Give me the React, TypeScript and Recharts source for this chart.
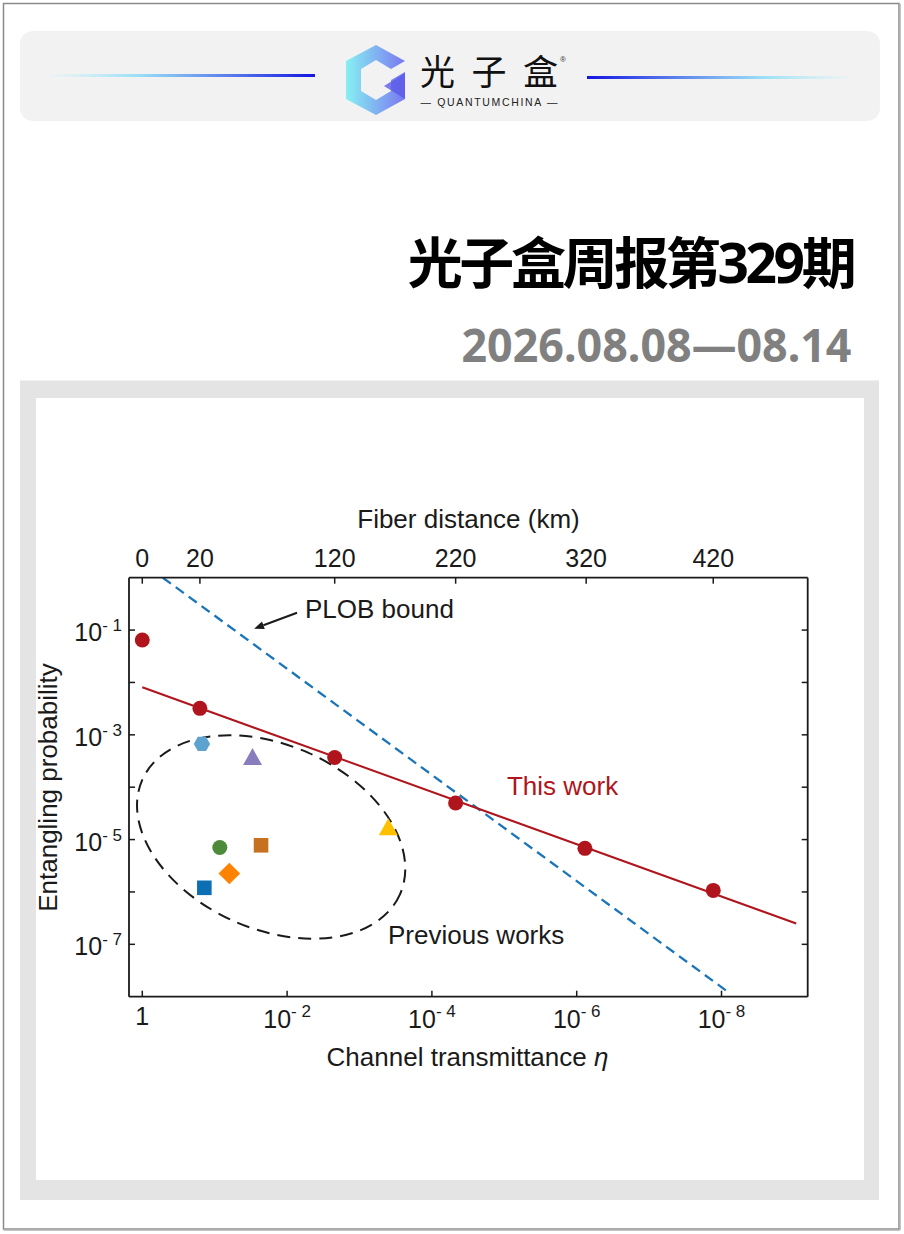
import React from 'react';
import { ComposedChart, Line, Scatter, XAxis, YAxis, ReferenceDot } from 'recharts';

// ---------- data ----------
const etaTicks = [1, 1e-2, 1e-4, 1e-6, 1e-8];
const probTicks = [1e-1, 1e-2, 1e-3, 1e-4, 1e-5, 1e-6, 1e-7];
const kmLabels = ['0', '20', '120', '220', '320', '420'];
const kmEta = [1, 0.16, 2.2e-3, 4.7e-5, 7.4e-7, 1.3e-8];

const thisWorkEta = [1, 0.16, 2.2e-3, 4.7e-5, 7.7e-7, 1.3e-8];
const thisWorkP = [0.0646, 3.2e-3, 3.7e-4, 5.0e-5, 6.8e-6, 1.07e-6];

const fitEta = [1, 9.3e-10];
const fitP = [8.1e-3, 2.5e-7];

const plobEta = [0.52, 7.8e-9];
const plobP = [1, 1.18e-8];

const prevEta = [0.15, 0.030, 0.085, 0.0229, 0.0628, 0.139, 4.0e-4];
const prevP = [6.7e-4, 3.6e-4, 7.05e-6, 7.78e-6, 2.25e-6, 1.2e-6, 1.64e-5];
const prevShapes = ['hexagon', 'triangle', 'circle', 'square', 'diamond', 'square', 'triangle'];
const prevColors = ['#5ea3d0', '#8a7dbd', '#4d8b3b', '#c6711f', '#ff8200', '#0c6fb3', '#ffc000'];

const ellipseEta = 0.0166;
const ellipseP = 1.12e-5;

const plobLabelAt = { x: 5.66e-3, y: 0.171 };
const plobArrowAt = { x: 0.0286, y: 0.106 };
const thisWorkLabelAt = { x: 9.2e-6, y: 6.98e-5 };
const previousLabelAt = { x: 4.04e-4, y: 1.01e-7 };

const xDomain: [number, number] = [6.45e-10, 1.526];
const yDomain: [number, number] = [1e-8, 1];

// ---------- helpers ----------
const toXY = (xs: number[], ys: number[]) => xs.map((x, i) => ({ x, y: ys[i] }));
const thisWorkData = toXY(thisWorkEta, thisWorkP);
const fitData = toXY(fitEta, fitP);
const plobData = toXY(plobEta, plobP);

const INK = '#1a1a1a';
const RED = '#b0141c';
const FONT = "'Liberation Sans', Arial, sans-serif";
const HEAD_FONT = "'Noto Sans', 'Noto Sans CJK SC', sans-serif";
const axisLine = { stroke: INK, strokeWidth: 1.8 };

const expOf = (v: number) => Math.round(Math.log10(v));

const BottomTick = (props: any) => {
  const { x, y, payload } = props;
  const e = expOf(payload.value);
  return (
    <g>
      <line x1={x} y1={y} x2={x} y2={y - 6} stroke={INK} strokeWidth={1.5} />
      {e === 0 ? (
        <text x={x} y={y + 28} textAnchor="middle" fontSize={25} fill={INK} fontFamily={FONT}>1</text>
      ) : (
        <text x={x} y={y + 31} textAnchor="middle" fontSize={25} fill={INK} fontFamily={FONT}>
          10<tspan dy={-11} fontSize={17}>{`- ${-e}`}</tspan>
        </text>
      )}
    </g>
  );
};

const TopTick = (props: any) => {
  const { x, y, payload } = props;
  const idx = kmEta.indexOf(payload.value);
  return (
    <g>
      <line x1={x} y1={y} x2={x} y2={y + 6} stroke={INK} strokeWidth={1.5} />
      <text x={x} y={y - 11} textAnchor="middle" fontSize={25} fill={INK} fontFamily={FONT}>
        {idx >= 0 ? kmLabels[idx] : ''}
      </text>
    </g>
  );
};

const LeftTick = (props: any) => {
  const { x, y, payload } = props;
  const e = expOf(payload.value);
  return (
    <g>
      <line x1={x} y1={y} x2={x + 6} y2={y} stroke={INK} strokeWidth={1.5} />
      {Math.abs(e) % 2 === 1 ? (
        <text x={x - 7} y={y + 11} textAnchor="end" fontSize={25} fill={INK} fontFamily={FONT}>
          10<tspan dy={-10} fontSize={17}>{`- ${-e}`}</tspan>
        </text>
      ) : null}
    </g>
  );
};

const RightTick = (props: any) => {
  const { x, y } = props;
  return <line x1={x} y1={y} x2={x - 6} y2={y} stroke={INK} strokeWidth={1.5} />;
};

const markerShape = (kind: string, color: string) => (p: any) => {
  const { cx, cy } = p;
  if (cx == null || cy == null) return <g />;
  switch (kind) {
    case 'hexagon': {
      const r = 8.2;
      const pts = [0, 1, 2, 3, 4, 5]
        .map((k) => {
          const a = (Math.PI / 3) * k;
          return `${cx + r * Math.cos(a)},${cy + r * Math.sin(a)}`;
        })
        .join(' ');
      return <polygon points={pts} fill={color} />;
    }
    case 'triangle':
      return <polygon points={`${cx},${cy - 10} ${cx + 9.5},${cy + 7} ${cx - 9.5},${cy + 7}`} fill={color} />;
    case 'circle':
      return <circle cx={cx} cy={cy} r={7.5} fill={color} />;
    case 'square':
      return <rect x={cx - 7.3} y={cy - 7.3} width={14.6} height={14.6} fill={color} />;
    case 'diamond':
      return <polygon points={`${cx},${cy - 10.8} ${cx + 10.8},${cy} ${cx},${cy + 10.8} ${cx - 10.8},${cy}`} fill={color} />;
    default:
      return <circle cx={cx} cy={cy} r={7} fill={color} />;
  }
};

const EllipseShape = (p: any) => (
  <ellipse
    cx={p.cx}
    cy={p.cy}
    rx={141}
    ry={92}
    transform={`rotate(24 ${p.cx} ${p.cy})`}
    fill="none"
    stroke={INK}
    strokeWidth={2}
    strokeDasharray="13 8"
  />
);

const textShape = (label: string, color: string) => (p: any) => (
  <text x={p.cx} y={p.cy} fontSize={26} fill={color} fontFamily={FONT}>{label}</text>
);

const ArrowShape = (p: any) => {
  const hx = p.cx, hy = p.cy;
  const tx = hx + 43, ty = hy - 16;
  const len = Math.hypot(hx - tx, hy - ty);
  const ux = (hx - tx) / len, uy = (hy - ty) / len;
  const bx = hx - ux * 10, by = hy - uy * 10;
  const px = -uy, py = ux;
  return (
    <g>
      <line x1={tx} y1={ty} x2={bx} y2={by} stroke={INK} strokeWidth={2} />
      <polygon points={`${hx},${hy} ${bx + px * 4},${by + py * 4} ${bx - px * 4},${by - py * 4}`} fill={INK} />
    </g>
  );
};

const Chart = () => (
  <ComposedChart width={828} height={782} margin={{ top: 139.7, right: 46.3, bottom: 133.3, left: 33 }}>
    <XAxis
      xAxisId="eta"
      dataKey="x"
      type="number"
      scale="log"
      domain={xDomain}
      allowDataOverflow
      reversed
      ticks={etaTicks}
      interval={0}
      tickSize={0}
      tickMargin={0}
      tickLine={false}
      axisLine={axisLine}
      tick={(p: any) => <BottomTick {...p} />}
      height={50}
      orientation="bottom"
    />
    <XAxis
      xAxisId="km"
      dataKey="x"
      type="number"
      scale="log"
      domain={xDomain}
      allowDataOverflow
      reversed
      ticks={kmEta}
      interval={0}
      tickSize={0}
      tickMargin={0}
      tickLine={false}
      axisLine={axisLine}
      tick={(p: any) => <TopTick {...p} />}
      height={40}
      orientation="top"
    />
    <YAxis
      yAxisId="left"
      dataKey="y"
      type="number"
      scale="log"
      domain={yDomain}
      allowDataOverflow
      ticks={probTicks}
      interval={0}
      tickSize={0}
      tickMargin={0}
      tickLine={false}
      axisLine={axisLine}
      tick={(p: any) => <LeftTick {...p} />}
      width={60}
      orientation="left"
    />
    <YAxis
      yAxisId="right"
      dataKey="y"
      type="number"
      scale="log"
      domain={yDomain}
      allowDataOverflow
      ticks={probTicks}
      interval={0}
      tickSize={0}
      tickMargin={0}
      tickLine={false}
      axisLine={axisLine}
      tick={(p: any) => <RightTick {...p} />}
      width={10}
      orientation="right"
    />

    <ReferenceDot xAxisId="eta" yAxisId="left" x={ellipseEta} y={ellipseP} shape={EllipseShape} />

    <Line
      xAxisId="eta"
      yAxisId="left"
      data={plobData}
      dataKey="y"
      type="linear"
      stroke="#1b75b8"
      strokeWidth={2.3}
      strokeDasharray="10 6"
      dot={false}
      activeDot={false}
      isAnimationActive={false}
    />
    <Line
      xAxisId="eta"
      yAxisId="left"
      data={fitData}
      dataKey="y"
      type="linear"
      stroke={RED}
      strokeWidth={2}
      dot={false}
      activeDot={false}
      isAnimationActive={false}
    />
    <Scatter
      xAxisId="eta"
      yAxisId="left"
      data={thisWorkData}
      dataKey="y"
      shape={markerShape('circle', RED)}
      isAnimationActive={false}
    />
    {prevEta.map((x, i) => (
      <Scatter
        key={i}
        xAxisId="eta"
        yAxisId="left"
        data={[{ x, y: prevP[i] }]}
        dataKey="y"
        shape={markerShape(prevShapes[i], prevColors[i])}
        isAnimationActive={false}
      />
    ))}

    <ReferenceDot xAxisId="eta" yAxisId="left" x={plobLabelAt.x} y={plobLabelAt.y} shape={textShape('PLOB bound', INK)} />
    <ReferenceDot xAxisId="eta" yAxisId="left" x={plobArrowAt.x} y={plobArrowAt.y} shape={ArrowShape} />
    <ReferenceDot xAxisId="eta" yAxisId="left" x={thisWorkLabelAt.x} y={thisWorkLabelAt.y} shape={textShape('This work', RED)} />
    <ReferenceDot xAxisId="eta" yAxisId="left" x={previousLabelAt.x} y={previousLabelAt.y} shape={textShape('Previous works', INK)} />
  </ComposedChart>
);

const Background = () => (
  <svg width={904} height={1234} style={{ position: 'absolute', left: 0, top: 0 }}>
    <defs>
      <linearGradient id="lineL" x1="0" y1="0" x2="1" y2="0">
        <stop offset="0" stopColor="#a8eefa" stopOpacity={0} />
        <stop offset="0.35" stopColor="#8fdcf8" stopOpacity={0.9} />
        <stop offset="1" stopColor="#1414e0" />
      </linearGradient>
      <linearGradient id="lineR" x1="0" y1="0" x2="1" y2="0">
        <stop offset="0" stopColor="#1414e0" />
        <stop offset="0.65" stopColor="#8fdcf8" stopOpacity={0.9} />
        <stop offset="1" stopColor="#a8eefa" stopOpacity={0} />
      </linearGradient>
      <linearGradient id="logoG" x1="0" y1="0" x2="1" y2="0">
        <stop offset="0" stopColor="#86f0f2" />
        <stop offset="1" stopColor="#7a78f0" />
      </linearGradient>
    </defs>
    <rect x={0} y={0} width={904} height={1234} fill="#ffffff" />
    <rect x={3.5} y={3.5} width={895.5} height={1225.5} fill="#ffffff" stroke="#8a8a8a" strokeWidth={1.5} />
    <line x1={4} y1={1230} x2={900} y2={1230} stroke="#b0b0b0" strokeWidth={1.5} />
    <line x1={900} y1={4} x2={900} y2={1230} stroke="#b0b0b0" strokeWidth={1.5} />

    {/* header banner */}
    <rect x={20} y={31} width={860} height={90} rx={13} fill="#f2f2f2" />
    <rect x={45} y={74} width={270} height={3} fill="url(#lineL)" />
    <rect x={587} y={76} width={268} height={3} fill="url(#lineR)" />
    <path
      d="M376,45 L405,61 L391,69 L376,60 L361,69 L361,91 L376,100 L391,91 L391,80 L405,72 L405,99 L376,115 L346,99 L346,61 Z"
      fill="url(#logoG)"
    />
    <path d="M384,86 L405,73 L405,99 Z" fill="#5a5ae8" opacity={0.8} />
    <text
      x={420}
      y={85}
      fontSize={35}
      fontFamily="'Noto Sans CJK SC', sans-serif"
      fill="#111"
      textLength={138}
      lengthAdjust="spacing"
    >
      光子盒
    </text>
    <text x={560} y={62} fontSize={8} fontFamily={FONT} fill="#333">®</text>
    <text
      x={420.5}
      y={105.7}
      fontSize={10.5}
      fontFamily={FONT}
      fill="#222"
      textLength={137}
      lengthAdjust="spacing"
    >
      — QUANTUMCHINA —
    </text>

    {/* titles */}
    <text
      x={856.7}
      y={283}
      textAnchor="end"
      fontSize={55}
      fontWeight={700}
      fontFamily={HEAD_FONT}
      fill="#000"
      textLength={449}
      lengthAdjust="spacing"
    >
      光子盒周报第329期
    </text>
    <text
      x={851.5}
      y={361.5}
      textAnchor="end"
      fontSize={47}
      fontWeight={700}
      fontFamily={HEAD_FONT}
      fill="#808080"
      textLength={390}
      lengthAdjust="spacingAndGlyphs"
    >
      2026.08.08—08.14
    </text>

    {/* chart frame */}
    <rect x={20} y={380.5} width={859} height={819.5} fill="#e4e4e4" />
    <rect x={36} y={398} width={828} height={782} fill="#ffffff" />

    {/* axis titles */}
    <text x={468.5} y={528} textAnchor="middle" fontSize={26} fontFamily={FONT} fill={INK}>
      Fiber distance (km)
    </text>
    <text x={467.5} y={1066} textAnchor="middle" fontSize={26} fontFamily={FONT} fill={INK}>
      Channel transmittance <tspan fontStyle="italic">η</tspan>
    </text>
    <text
      transform="translate(57,787.5) rotate(-90)"
      textAnchor="middle"
      fontSize={26}
      fontFamily={FONT}
      fill={INK}
    >
      Entangling probability
    </text>
  </svg>
);

export default function App() {
  return (
    <div style={{ position: 'absolute', left: 0, top: 0, width: 904, height: 1234, background: '#fff' }}>
      <Background />
      <div style={{ position: 'absolute', left: 36, top: 398, width: 828, height: 782 }}>
        <Chart />
      </div>
    </div>
  );
}
